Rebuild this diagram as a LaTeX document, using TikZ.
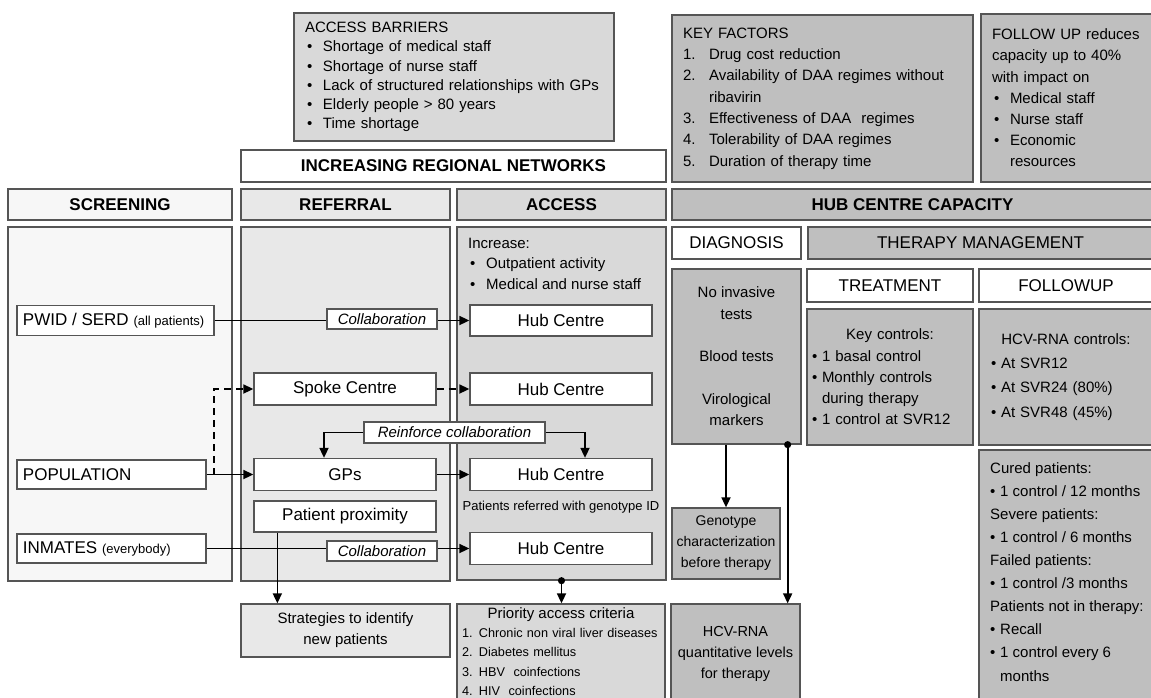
\documentclass[tikz,border=0pt]{standalone}
\usepackage{fontspec}
\setmainfont{Liberation Sans}
\usetikzlibrary{arrows.meta}

\definecolor{edgegray}{HTML}{555555}
\definecolor{screenfill}{HTML}{F7F7F7}
\definecolor{referfill}{HTML}{E8E8E8}
\definecolor{accessfill}{HTML}{D9D9D9}
\definecolor{hubfill}{HTML}{BFBFBF}

\newcommand{\bul}{\makebox[18pt][l]{\hspace{2pt}\textbullet}}
\newcommand{\sbul}{\makebox[10pt][l]{\textbullet}}
\newcommand{\nbox}[1]{\makebox[26pt][l]{#1}}

\begin{document}
\begin{tikzpicture}[x=1pt, y=-1pt,
    panel/.style={rectangle, draw=edgegray, line width=1.3pt, inner sep=0pt},
    header/.style={panel, font=\fontsize{17}{20}\selectfont\bfseries},
    entry/.style={panel, fill=white, font=\fontsize{17}{20}\selectfont},
    tag/.style={panel, fill=white, line width=1.1pt, font=\fontsize{15}{18}\selectfont\itshape},
    arrow/.style={-{Triangle[length=10pt, width=9pt]}, line width=1.7pt},
    dotarrow/.style={{Circle[length=7pt]}-{Triangle[length=10pt, width=9pt]}, line width=1.7pt, shorten <=-3.5pt}
]
    \useasboundingbox (0,0) rectangle (1151,697);

    % Top: barriers, key factors, follow up
    \node[panel, fill=accessfill, minimum width=320, minimum height=128, text width=298, align=left, font=\fontsize{15}{19.2}\selectfont] (barriers) at (454,77) {ACCESS BARRIERS\\
        \bul Shortage of medical staff\\
        \bul Shortage of nurse staff\\
        \bul Lack of structured relationships with GPs\\
        \bul Elderly people > 80 years\\
        \bul Time shortage};
    \node[panel, fill=hubfill, minimum width=301, minimum height=167, text width=279, align=left, font=\fontsize{15}{21.3}\selectfont] (keyfactors) at (822.5,98.5) {KEY FACTORS\\
        \nbox{1.}Drug cost reduction\\
        \nbox{2.}Availability of DAA regimes without\\
        \hspace*{26pt}ribavirin\\
        \nbox{3.}Effectiveness of DAA\ \ regimes\\
        \nbox{4.}Tolerability of DAA regimes\\
        \nbox{5.}Duration of therapy time};
    \node[panel, fill=hubfill, minimum width=174, minimum height=168, text width=152, align=left, font=\fontsize{15}{21.2}\selectfont] (fucapacity) at (1068,98) {FOLLOW UP reduces\\
        capacity up to 40\%\\
        with impact on\\
        \bul Medical staff\\
        \bul Nurse staff\\
        \bul Economic\\
        \hspace*{18pt}resources};
    \node[entry, font=\fontsize{17}{20}\selectfont\bfseries, minimum width=425, minimum height=32] (networks) at (453.5,166) {INCREASING REGIONAL NETWORKS};

    % Column headers
    \node[header, fill=screenfill, minimum width=224, minimum height=31] (screening) at (120,204.5) {SCREENING};
    \node[header, fill=referfill, minimum width=209, minimum height=31] (referral) at (345.5,204.5) {REFERRAL};
    \node[header, fill=accessfill, minimum width=209, minimum height=31] (access) at (561.5,204.5) {ACCESS};
    \node[header, fill=hubfill, minimum width=481, minimum height=31] (hubcap) at (912.5,204.5) {HUB CENTRE CAPACITY};

    % Column bodies
    \node[panel, fill=screenfill, minimum width=224, minimum height=354] (screenbody) at (120,404) {};
    \node[panel, fill=referfill, minimum width=209, minimum height=354] (referbody) at (345.5,404) {};
    \node[panel, fill=accessfill, minimum width=209, minimum height=353] (accessbody) at (561.5,403.5) {};
    \node[anchor=base west, align=left, inner sep=0pt, font=\fontsize{15}{20.5}\selectfont] (increase) at (468,289) {Increase:\\
        \bul Outpatient activity\\
        \bul Medical and nurse staff};

    % Hub centre: diagnosis and therapy management
    \node[entry, minimum width=129, minimum height=32] (diagnosis) at (736.5,243) {DIAGNOSIS};
    \node[panel, fill=hubfill, font=\fontsize{17}{20}\selectfont, minimum width=345, minimum height=32] (therapy) at (980.5,243) {THERAPY MANAGEMENT};
    \node[panel, fill=hubfill, minimum width=129, minimum height=175, align=center, font=\fontsize{15}{21.3}\selectfont] (diagbody) at (736.5,356.5) {No invasive\\tests\\[21.3pt]Blood tests\\[21.3pt]Virological\\markers};
    \node[entry, minimum width=166, minimum height=33] (treatment) at (890,285.5) {TREATMENT};
    \node[entry, minimum width=174, minimum height=33] (followup) at (1066,285.5) {FOLLOWUP};
    \node[panel, fill=hubfill, minimum width=166, minimum height=136, text width=156, align=left, font=\fontsize{15}{21.3}\selectfont] (treatbody) at (890,377) {\makebox[156pt]{Key controls:}\\
        \sbul 1 basal control\\
        \sbul Monthly controls\\
        \hspace*{10pt}during therapy\\
        \sbul 1 control at SVR12};
    \node[panel, fill=hubfill, minimum width=174, minimum height=136, text width=150, align=left, font=\fontsize{15}{24.2}\selectfont] (fubody) at (1066,377) {\makebox[150pt]{HCV-RNA controls:}\\
        \sbul At SVR12\\
        \sbul At SVR24 (80\%)\\
        \sbul At SVR48 (45\%)};
    \node[panel, fill=hubfill, minimum width=176, minimum height=255] (fuplan) at (1067,577.5) {};
    \node[anchor=base west, align=left, inner sep=0pt, font=\fontsize{15}{23.1}\selectfont] (fuplantext) at (990,681) {Cured patients:\\
        \sbul 1 control / 12 months\\
        Severe patients:\\
        \sbul 1 control / 6 months\\
        Failed patients:\\
        \sbul 1 control /3 months\\
        Patients not in therapy:\\
        \sbul Recall\\
        \sbul 1 control every 6\\
        \hspace*{10pt}months};

    % Diagnosis outputs
    \node[panel, fill=hubfill, minimum width=108, minimum height=71, align=center, font=\fontsize{14}{21}\selectfont] (genotype) at (726,543.5) {Genotype\\characterization\\before therapy};
    \node[panel, fill=hubfill, minimum width=129, minimum height=100, align=center, font=\fontsize{14.5}{21}\selectfont] (hcvlevels) at (735.5,654) {HCV-RNA\\quantitative levels\\for therapy};

    % Referral and access outputs
    \node[panel, fill=referfill, minimum width=209, minimum height=53, align=center, font=\fontsize{15}{21}\selectfont] (strategies) at (345.5,630.5) {Strategies to identify\\new patients};
    \node[panel, fill=accessfill, minimum width=208, minimum height=95, text width=198, align=left, font=\fontsize{12.7}{19.2}\selectfont] (priority) at (561,651.5) {\makebox[198pt]{\fontsize{15}{19.2}\selectfont Priority access criteria}\\
        \mbox{1. Chronic non viral liver diseases}\\
        \mbox{2. Diabetes mellitus}\\
        \mbox{3. HBV\ \ coinfections}\\
        \mbox{4. HIV\ \ coinfections}};

    % Screening groups
    \node[entry, minimum width=197, minimum height=30] (pwid) at (115.5,320.5) {\makebox[185pt][l]{PWID / SERD {\fontsize{13}{15}\selectfont (all patients)}}};
    \node[entry, minimum width=189, minimum height=29] (population) at (111.5,474.5) {\makebox[177pt][l]{POPULATION}};
    \node[entry, minimum width=189, minimum height=29] (inmates) at (111.5,548.5) {\makebox[177pt][l]{INMATES {\fontsize{13}{15}\selectfont (everybody)}}};

    % Referral nodes
    \node[entry, minimum width=182, minimum height=32] (spoke) at (345,389) {Spoke Centre};
    \node[entry, minimum width=182, minimum height=32] (gps) at (345,474.5) {GPs};
    \node[entry, minimum width=182, minimum height=31] (proximity) at (345,516.5) {Patient proximity};

    % Access nodes
    \node[entry, minimum width=182, minimum height=31] (hubA) at (561,320.5) {Hub Centre};
    \node[entry, minimum width=182, minimum height=32] (hubB) at (561,389) {Hub Centre};
    \node[entry, minimum width=182, minimum height=32] (hubC) at (561,474.5) {Hub Centre};
    \node[entry, minimum width=182, minimum height=32] (hubD) at (561,548.5) {Hub Centre};
    \node[inner sep=0pt, font=\fontsize{13}{15}\selectfont] (genonote) at (561,507) {Patients referred with genotype ID};

    % Connectors
    \draw[arrow] (pwid.east) -- (hubA.west);
    \node[tag, minimum width=110, minimum height=20] (collabA) at (382,319) {Collaboration};
    \coordinate (split) at ([xshift=7]population.east);
    \draw[arrow] (population.east) -- (gps.west);
    \draw[arrow, dash pattern=on 7pt off 5pt] (split) |- (spoke.west);
    \draw[arrow, dash pattern=on 7pt off 5pt] (spoke.east) -- (hubB.west);
    \draw[arrow] (gps.east) -- (hubC.west);
    \node[tag, minimum width=181, minimum height=21] (reinforce) at (454.5,432.5) {Reinforce collaboration};
    \draw[arrow] (reinforce.west) -| ([xshift=-21]gps.north);
    \draw[arrow] (reinforce.east) -| ([xshift=24]hubC.north);
    \draw[arrow] (inmates.east) -- (hubD.west);
    \node[tag, minimum width=110, minimum height=20] (collabB) at (382,551) {Collaboration};
    \draw[arrow] ([xshift=24]proximity.south west) -- ([xshift=37]strategies.north west);
    \draw[dotarrow] (accessbody.south) -- (accessbody.south |- priority.north);
    \draw[arrow] (genotype.north |- diagbody.south) -- (genotype.north);
    \draw[dotarrow] ([xshift=-14]diagbody.south east) -- ([xshift=-14]diagbody.south east |- hcvlevels.north);
\end{tikzpicture}
\end{document}
